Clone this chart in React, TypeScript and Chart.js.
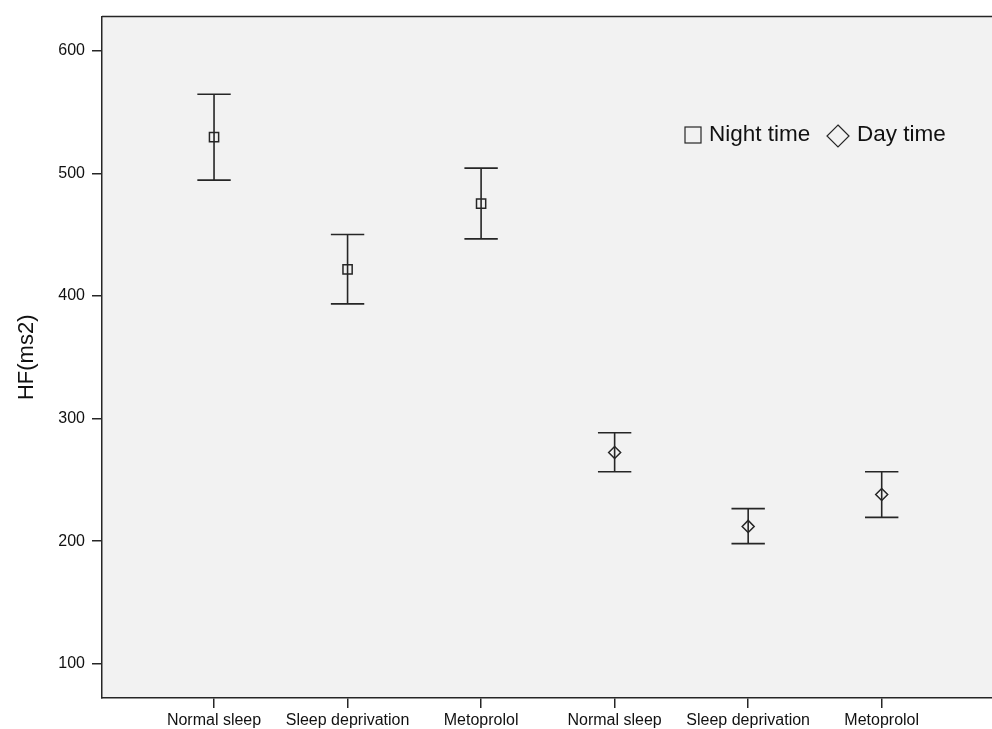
import React, { useEffect, useRef } from "react";
import { Chart, registerables } from "chart.js";

Chart.register(...registerables);

const categories = ["Normal sleep", "Sleep deprivation", "Metoprolol", "Normal sleep", "Sleep deprivation", "Metoprolol"];
const nightPositions = [1, 2, 3];
const dayPositions = [4, 5, 6];
const nightMean = [529.7, 421.7, 475.4];
const nightUpper = [564.7, 450.2, 504.4];
const nightLower = [494.6, 393.6, 446.6];
const dayMean = [272.3, 212.0, 238.1];
const dayUpper = [288.4, 226.5, 256.6];
const dayLower = [256.6, 198.0, 219.4];
const yTicks = [100, 200, 300, 400, 500, 600];
const legendLabels = ["Night time", "Day time"];
const yTitle = "HF(ms2)";

const INK = "#262626";
const FONT = "'Liberation Sans', Arial, sans-serif";

const bgPlugin = {
  id: "bgPlugin",
  beforeDraw(chart: any) {
    const { ctx, chartArea } = chart;
    ctx.save();
    ctx.fillStyle = "#f2f2f2";
    ctx.fillRect(chartArea.left, chartArea.top, chartArea.right - chartArea.left, chartArea.bottom - chartArea.top);
    ctx.strokeStyle = INK;
    ctx.lineWidth = 1.5;
    ctx.beginPath();
    ctx.moveTo(chartArea.left, chartArea.top);
    ctx.lineTo(chartArea.right, chartArea.top);
    ctx.stroke();
    ctx.restore();
  },
};

const errorBarPlugin = {
  id: "errorBarPlugin",
  beforeDatasetsDraw(chart: any) {
    const { ctx, scales } = chart;
    const xs = scales.x;
    const ys = scales.y;
    const capHalf = 0.125;
    const draw = (pos: number[], up: number[], lo: number[]) => {
      pos.forEach((p, i) => {
        const x = xs.getPixelForValue(p);
        const xl = xs.getPixelForValue(p - capHalf);
        const xr = xs.getPixelForValue(p + capHalf);
        const yu = ys.getPixelForValue(up[i]);
        const yl = ys.getPixelForValue(lo[i]);
        ctx.beginPath();
        ctx.moveTo(x, yu);
        ctx.lineTo(x, yl);
        ctx.moveTo(xl, yu);
        ctx.lineTo(xr, yu);
        ctx.moveTo(xl, yl);
        ctx.lineTo(xr, yl);
        ctx.stroke();
      });
    };
    ctx.save();
    ctx.strokeStyle = INK;
    ctx.lineWidth = 1.6;
    draw(nightPositions, nightUpper, nightLower);
    draw(dayPositions, dayUpper, dayLower);
    ctx.restore();
  },
};

const legendPlugin = {
  id: "legendPlugin",
  afterDraw(chart: any) {
    const { ctx } = chart;
    ctx.save();
    ctx.strokeStyle = INK;
    ctx.lineWidth = 1.2;
    ctx.fillStyle = "#111";
    ctx.font = `22.5px ${FONT}`;
    ctx.textBaseline = "middle";
    ctx.textAlign = "left";
    const cy = 135;
    ctx.strokeRect(685, cy - 8, 16, 16);
    ctx.fillText(legendLabels[0], 709, cy);
    const dx = 838;
    const dy = 136;
    const r = 11;
    ctx.beginPath();
    ctx.moveTo(dx, dy - r);
    ctx.lineTo(dx + r, dy);
    ctx.lineTo(dx, dy + r);
    ctx.lineTo(dx - r, dy);
    ctx.closePath();
    ctx.stroke();
    ctx.fillText(legendLabels[1], 857, cy);
    ctx.restore();
  },
};

export default function App() {
  const ref = useRef<HTMLCanvasElement | null>(null);
  useEffect(() => {
    if (!ref.current) return;
    const chart = new Chart(ref.current, {
      type: "scatter",
      data: {
        datasets: [
          {
            label: legendLabels[0],
            data: nightPositions.map((p, i) => ({ x: p, y: nightMean[i] })),
            pointStyle: "rect",
            pointRadius: 6.5,
            pointBorderWidth: 1.5,
            borderColor: INK,
            backgroundColor: "rgba(0,0,0,0)",
          },
          {
            label: legendLabels[1],
            data: dayPositions.map((p, i) => ({ x: p, y: dayMean[i] })),
            pointStyle: "rectRot",
            pointRadius: 6,
            pointBorderWidth: 1.5,
            borderColor: INK,
            backgroundColor: "rgba(0,0,0,0)",
          },
        ],
      },
      options: {
        animation: false,
        responsive: false,
        devicePixelRatio: 1,
        layout: { autoPadding: false, padding: { top: 15, left: 0, right: 0, bottom: 0 } },
        plugins: { legend: { display: false }, tooltip: { enabled: false } },
        scales: {
          x: {
            type: "linear",
            min: 0.161,
            max: 6.826,
            afterBuildTicks: (axis: any) => {
              axis.ticks = categories.map((_, i) => ({ value: i + 1 }));
            },
            afterFit: (axis: any) => {
              axis.height = 31;
            },
            ticks: {
              callback: (v: any) => categories[Number(v) - 1] ?? "",
              color: "#111",
              font: { family: FONT, size: 16 },
              padding: 3,
              maxRotation: 0,
              autoSkip: false,
            },
            grid: { display: true, drawOnChartArea: false, drawTicks: true, tickLength: 10, color: INK, lineWidth: 1.5 },
            border: { display: true, color: INK, width: 1.5 },
          },
          y: {
            type: "linear",
            min: 72,
            max: 628,
            afterBuildTicks: (axis: any) => {
              axis.ticks = yTicks.map((v) => ({ value: v }));
            },
            afterFit: (axis: any) => {
              axis.width = 102;
            },
            ticks: {
              color: "#111",
              font: { family: FONT, size: 16 },
              padding: 7,
            },
            title: {
              display: true,
              text: yTitle,
              color: "#111",
              font: { family: FONT, size: 22, weight: "normal" },
              padding: { top: 14, bottom: 0 },
            },
            grid: { display: true, drawOnChartArea: false, drawTicks: true, tickLength: 10, color: INK, lineWidth: 1.5 },
            border: { display: true, color: INK, width: 1.5 },
          },
        },
      },
      plugins: [bgPlugin, errorBarPlugin, legendPlugin],
    } as any);
    return () => chart.destroy();
  }, []);
  return (
    <div style={{ position: "absolute", left: 0, top: 0, width: 992, height: 729, overflow: "hidden", background: "#fff" }}>
      <canvas ref={ref} width={992} height={729} style={{ display: "block", width: 992, height: 729 }} />
    </div>
  );
}
